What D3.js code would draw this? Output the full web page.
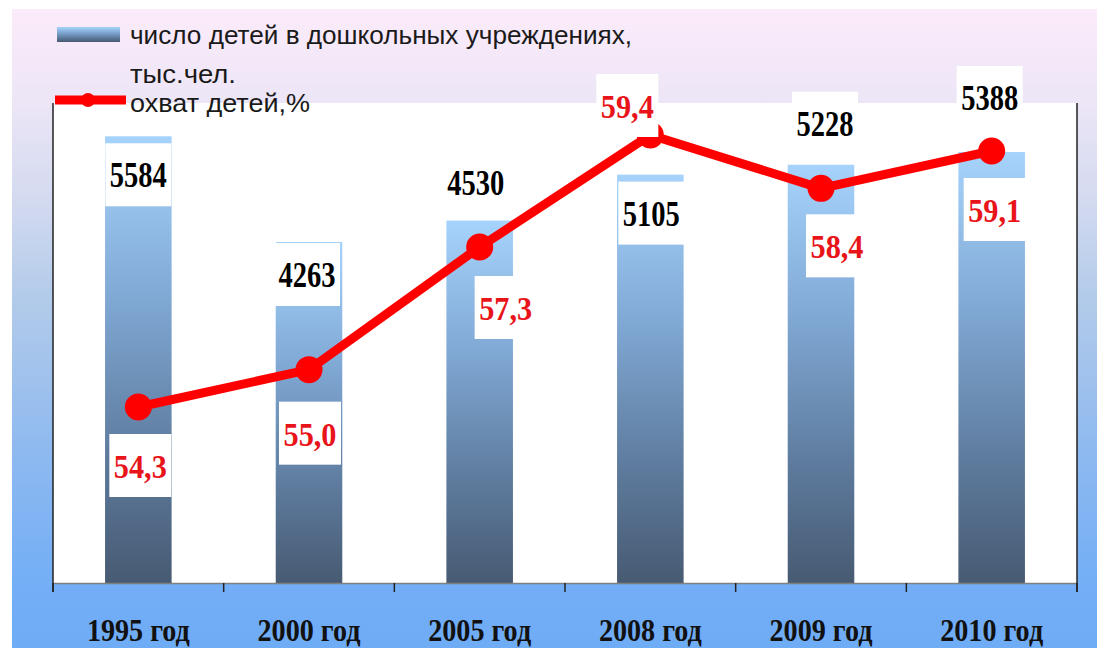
<!DOCTYPE html>
<html>
<head>
<meta charset="utf-8">
<script src="https://cdn.jsdelivr.net/npm/d3@7/dist/d3.min.js"></script>
<style>
  html, body { margin: 0; padding: 0; background: #ffffff; }
  svg { display: block; }
</style>
</head>
<body>
<script>
// ---------- data ----------
const categories = ["1995 год", "2000 год", "2005 год", "2008 год", "2009 год", "2010 год"];
const children = [5584, 4263, 4530, 5105, 5228, 5388];      // тыс. чел.
const coverage = [54.3, 55.0, 57.3, 59.4, 58.4, 59.1];      // %
const childrenDomain = [0, 6000];
const coverageDomain = [51, 60];
const legendLabels = ["число детей в дошкольных учреждениях,", "тыс.чел.", "охват детей,%"];

// ---------- layout (label placement offsets, px) ----------
const barLabelOffsets = [[0, 51], [-2, 45], [-4, -26], [1, 51], [4, -29], [-2, -42]];
const pctLabelOffsets = [[2, 71], [1, 76], [26, 73], [-23, -17], [16, 70], [3, 71]];

const W = 1097, H = 648;
const plot = { left: 53, right: 1077, top: 103, bottom: 583 };

const svg = d3.select("body").append("svg").attr("width", W).attr("height", H);
const defs = svg.append("defs");

const bg = defs.append("linearGradient").attr("id", "bgGrad")
  .attr("x1", 0).attr("y1", 0).attr("x2", 0).attr("y2", 1);
[[0, "#fcebfa"], [0.14, "#ede6f7"], [0.3, "#d3daf0"], [0.45, "#b3cbea"], [0.7, "#8db9f0"], [0.9, "#73aef6"], [1, "#6facf6"]]
  .forEach(([o, c]) => bg.append("stop").attr("offset", o).attr("stop-color", c));

const barGrad = defs.append("linearGradient").attr("id", "barGrad")
  .attr("x1", 0).attr("y1", 0).attr("x2", 0).attr("y2", 1);
[[0, "#a6d3fb"], [0.35, "#81aad6"], [0.7, "#5f7da0"], [1, "#475a72"]]
  .forEach(([o, c]) => barGrad.append("stop").attr("offset", o).attr("stop-color", c));

// background
svg.append("rect").attr("x", 12).attr("y", 9).attr("width", W - 12).attr("height", H - 9)
  .attr("fill", "url(#bgGrad)");
// plot area
svg.append("rect").attr("x", plot.left).attr("y", plot.top)
  .attr("width", plot.right - plot.left).attr("height", plot.bottom - plot.top).attr("fill", "#ffffff");

// scales
const x = d3.scaleBand().domain(categories).range([plot.left, plot.right])
  .paddingInner(0.61).paddingOuter(0.305);
const yBar = d3.scaleLinear().domain(childrenDomain).range([plot.bottom, plot.top]);
const yPct = d3.scaleLinear().domain(coverageDomain).range([plot.bottom, plot.top]);
const cx = c => x(c) + x.bandwidth() / 2;

// bars
svg.append("g").selectAll("rect").data(categories).join("rect")
  .attr("x", d => x(d)).attr("width", x.bandwidth())
  .attr("y", (d, i) => yBar(children[i]))
  .attr("height", (d, i) => yBar(0) - yBar(children[i]))
  .attr("fill", "url(#barGrad)");

// x axis
const xAxis = d3.axisBottom(x).tickSize(0).tickSizeOuter(0).tickPadding(0);
const gx = svg.append("g").attr("transform", `translate(0,${plot.bottom})`).call(xAxis);
gx.select(".domain").attr("stroke", "#7f7f7f").attr("stroke-width", 1.5);
gx.selectAll(".tick text")
  .attr("y", 58).attr("dy", 0)
  .attr("transform", "scale(0.88,1)")
  .attr("font-family", "'Liberation Serif', 'Times New Roman', serif")
  .attr("font-weight", "bold").attr("font-size", 32).attr("fill", "#111");
// boundary ticks
svg.append("g").selectAll("line").data(d3.range(categories.length + 1)).join("line")
  .attr("x1", i => plot.left + i * x.step()).attr("x2", i => plot.left + i * x.step())
  .attr("y1", plot.bottom).attr("y2", plot.bottom + 9)
  .attr("stroke", "#222").attr("stroke-width", 1.5);
// left and right frame lines
[plot.left, plot.right].forEach(xx => {
  svg.append("line").attr("x1", xx).attr("x2", xx).attr("y1", plot.top).attr("y2", plot.bottom + 9)
    .attr("stroke", "#222").attr("stroke-width", 1.5);
});

// line series
const line = d3.line().x((d, i) => cx(categories[i])).y(d => yPct(d));
svg.append("path").datum(coverage).attr("d", line)
  .attr("fill", "none").attr("stroke", "#ff0000").attr("stroke-width", 9).attr("stroke-linejoin", "round");
svg.append("g").selectAll("circle").data(coverage).join("circle")
  .attr("cx", (d, i) => cx(categories[i])).attr("cy", d => yPct(d)).attr("r", 13.5)
  .attr("fill", "#ff0000");

// labels
const serif = "'Liberation Serif', 'Times New Roman', serif";
const barLabelW = 57, pctLabelW = 53;
function drawLabel(g, px, py, text, color, fontSize, w) {
  const lg = g.append("g").attr("transform", `translate(${px},${py})`);
  lg.append("rect").attr("x", -(w + 9) / 2).attr("y", -44).attr("width", w + 9).attr("height", 63)
    .attr("fill", "#ffffff");
  lg.append("text").attr("text-anchor", "middle")
    .attr("font-family", serif).attr("font-weight", "bold").attr("font-size", fontSize)
    .attr("fill", color).attr("textLength", w).attr("lengthAdjust", "spacingAndGlyphs")
    .attr("x", 0).attr("y", 0).text(text);
}
const labelsG = svg.append("g");
const fmtPct = v => v.toFixed(1).replace(".", ",");
children.forEach((v, i) => {
  drawLabel(labelsG, cx(categories[i]) + barLabelOffsets[i][0], yBar(v) + barLabelOffsets[i][1],
    String(v), "#000000", 36, barLabelW);
});
coverage.forEach((v, i) => {
  drawLabel(labelsG, cx(categories[i]) + pctLabelOffsets[i][0], yPct(v) + pctLabelOffsets[i][1],
    fmtPct(v), "#e8141a", 34, pctLabelW);
});

// legend
const lg = svg.append("g");
lg.append("rect").attr("x", 57).attr("y", 27).attr("width", 63).attr("height", 15).attr("fill", "url(#barGrad)");
lg.append("line").attr("x1", 55).attr("x2", 126).attr("y1", 100).attr("y2", 100)
  .attr("stroke", "#ff0000").attr("stroke-width", 9);
lg.append("circle").attr("cx", 88).attr("cy", 100).attr("r", 7).attr("fill", "#ff0000");
const sans = "'Liberation Sans', Arial, sans-serif";
lg.append("text").attr("x", 130).attr("y", 44).attr("font-family", sans).attr("font-size", 26)
  .attr("fill", "#1a1a1a").attr("textLength", 502).attr("lengthAdjust", "spacingAndGlyphs").text(legendLabels[0]);
lg.append("text").attr("x", 130).attr("y", 83).attr("font-family", sans).attr("font-size", 26)
  .attr("fill", "#1a1a1a").attr("textLength", 106).attr("lengthAdjust", "spacingAndGlyphs").text(legendLabels[1]);
lg.append("text").attr("x", 130).attr("y", 112).attr("font-family", sans).attr("font-size", 26)
  .attr("fill", "#1a1a1a").attr("textLength", 180).attr("lengthAdjust", "spacingAndGlyphs").text(legendLabels[2]);
</script>
</body>
</html>
